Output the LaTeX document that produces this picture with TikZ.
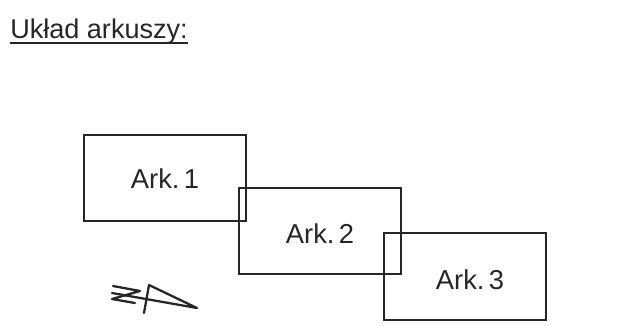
\documentclass[tikz,border=0pt]{standalone}
\usepackage{fontspec}
\setmainfont{Liberation Sans}
\newcommand{\arkgap}{\hspace{0.16em}}
\tikzset{
  sheet/.style={draw, line width=1.5pt, black!85, minimum width=121.5pt, minimum height=65pt, inner sep=0pt},
  sheet label/.style={inner sep=0pt, font=\fontsize{20.5}{22}\selectfont, text=black!85},
  mark line/.style={draw, line width=1.7pt, line cap=round, line join=round, black!85}
}
\begin{document}
\begin{tikzpicture}[x=0.75pt,y=-0.75pt]
\useasboundingbox (0,0) rectangle (620,325);
\node[anchor=base west, inner sep=0pt, font=\fontsize{20.3}{22}\selectfont, text=black!85] (title) at (10,38) {Układ arkuszy:};
\draw[line width=1.3pt, black!85] (title.west |- 0,43) coordinate (ulA) -- (title.east |- 0,43) coordinate (ulB);
\node[sheet] (ark1) at (164.5,178) {};
\node[sheet] (ark2) at (320,231) {};
\node[sheet] (ark3) at (465,276.5) {};
\node[sheet label] (lab1) at (165,178.5) {Ark.\arkgap 1};
\node[sheet label] (lab2) at (320,233.5) {Ark.\arkgap 2};
\node[sheet label] (lab3) at (470,280) {Ark.\arkgap 3};
% north mark
\coordinate (na) at (113,286);
\coordinate (nb) at (140,291);
\coordinate (nc) at (112,299);
\coordinate (nd) at (135,303);
\coordinate (ne) at (112,293);
\coordinate (nf) at (197,308);
\coordinate (ng) at (149,285);
\coordinate (nh) at (144,313);
\draw[mark line] (na) -- (nb) -- (nc) -- (nd);
\draw[mark line] (ne) -- (nf) -- (ng) -- (nh);
\end{tikzpicture}
\end{document}
